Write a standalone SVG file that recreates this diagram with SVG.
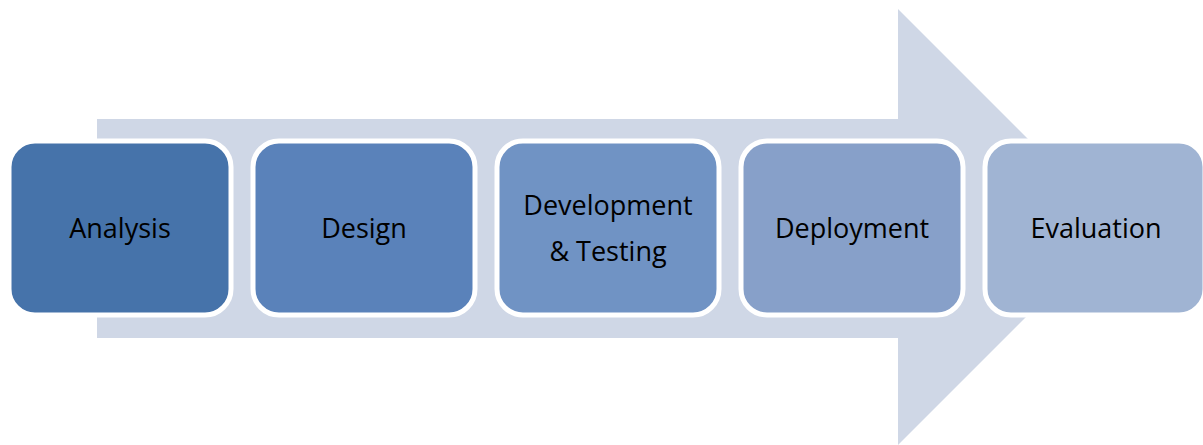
<svg xmlns="http://www.w3.org/2000/svg" width="1203" height="445" viewBox="0 0 1203 445">
<style>
.box{stroke:#FFFFFF;stroke-width:5}
.lbl{font-family:"Open Sans","Liberation Sans",sans-serif;font-size:27px;fill:#000000;text-anchor:middle}
</style>
<rect width="1203" height="445" fill="#FFFFFF"/>
<g id="arrow">
<polygon points="97,119 898,119 898,9 1116,227 898,445 898,338 97,338" fill="#CFD7E6"/>
</g>
<g id="connectors"></g>
<g id="analysis">
<rect class="box" x="9" y="141" width="222" height="174" rx="26" fill="#4673AA"/>
<text class="lbl" x="120" y="238">Analysis</text>
</g>
<g id="design">
<rect class="box" x="253" y="141" width="222" height="174" rx="26" fill="#5A82BA"/>
<text class="lbl" x="364" y="238">Design</text>
</g>
<g id="development">
<rect class="box" x="497" y="141" width="222" height="174" rx="26" fill="#7093C4"/>
<text class="lbl" x="608" y="215">Development</text>
<text class="lbl" x="608" y="261">&amp; Testing</text>
</g>
<g id="deployment">
<rect class="box" x="741" y="141" width="222" height="174" rx="26" fill="#87A0C9"/>
<text class="lbl" x="852" y="238">Deployment</text>
</g>
<g id="evaluation">
<rect class="box" x="985" y="141" width="220" height="174" rx="26" fill="#A0B4D3"/>
<text class="lbl" x="1096" y="238">Evaluation</text>
</g>
</svg>
